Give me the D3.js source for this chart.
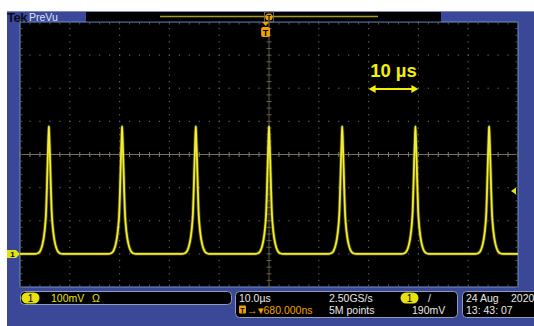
<!DOCTYPE html>
<html>
<head>
<meta charset="utf-8">
<script src="https://cdn.jsdelivr.net/npm/d3@7"></script>
<style>
  html,body{margin:0;padding:0;background:#fff;}
  svg{display:block;}
  text{font-family:"Liberation Sans",Arial,sans-serif;}
</style>
</head>
<body>
<svg id="c" width="534" height="326"></svg>
<script>
// ---- data ----
const peakTimesUs = [-44.2, -29.5, -14.7, 0, 14.7, 29.4, 44.2];      // pulse centres (µs from trigger)
const pulseOffsetsUs = [-2.8, -2.2, -1.7, -1.3, -1.0, -0.75, -0.55, -0.4, -0.25, -0.12, 0,
                         0.12, 0.25, 0.4, 0.55, 0.75, 1.0, 1.3, 1.7, 2.2, 2.8];
const pulseValuesMv  = [0, 2, 10, 28, 52, 85, 130, 200, 280, 340, 385,
                        340, 280, 200, 130, 85, 52, 28, 10, 2, 0];
const baselineMv = 0;
const timeDomainUs = [-50, 50];
const voltDomainMv = [-100, 700];   // ground marker 3 div below centre, 100 mV/div
const triggerLevelMv = 190;
const triggerPosUs = -0.68;
const scaleLabel = "10 µs";
const scaleBarUs = [20, 30];
const chLabels = ["1", "100mV", "Ω"];
const horizLabels = ["10.0µs", "680.000ns", "2.50GS/s", "5M points", "190mV"];
const dateLabels = ["24 Aug", "2020", "13: 43: 07"];

// ---- layout ----
const svg = d3.select("#c");
const P = {l:20, r:518, t:22, b:287};
const BLUE = "#3b4898", YEL = "#e6e20e", ORG = "#f0a000";

const x = d3.scaleLinear().domain(timeDomainUs).range([P.l, P.r]);
const y = d3.scaleLinear().domain(voltDomainMv).range([P.b, P.t]);

// frame
svg.append("rect").attr("x",7).attr("y",11).attr("width",527).attr("height",315).attr("fill",BLUE);
svg.append("line").attr("x1",7).attr("x2",534).attr("y1",11.5).attr("y2",11.5).attr("stroke","#7d8cc8");
svg.append("rect").attr("x",P.l).attr("y",P.t).attr("width",P.r-P.l).attr("height",P.b-P.t)
  .attr("fill","#000").attr("stroke","#7192d4").attr("stroke-width",1);

// header
svg.append("text").attr("x",7).attr("y",21.5).attr("font-size",13).attr("font-weight","bold")
  .attr("fill","#0b0b1c").attr("letter-spacing",-0.5).text("Tek");
svg.append("text").attr("x",29).attr("y",20.5).attr("font-size",10.5).attr("fill","#dfe4f7").text("PreVu");
svg.append("rect").attr("x",86).attr("y",12).attr("width",355).attr("height",9.5).attr("fill","#000");
svg.append("line").attr("x1",160).attr("x2",378).attr("y1",16.5).attr("y2",16.5).attr("stroke","#a89c10").attr("stroke-width",1.3);
const tx = x(0);
svg.append("rect").attr("x",tx-4.5).attr("y",12).attr("width",9).attr("height",10).attr("fill","none").attr("stroke","#777").attr("stroke-width",0.8);
svg.append("circle").attr("cx",tx).attr("cy",17).attr("r",3.6).attr("fill",ORG);
svg.append("text").attr("x",tx).attr("y",20).attr("font-size",7).attr("font-weight","bold").attr("text-anchor","middle").attr("fill","#000").text("T");

// grid
const majorX = x.ticks(10), majorY = y.ticks(8);
const minorX = d3.range(timeDomainUs[0], timeDomainUs[1]+0.001, 2);
const minorY = d3.range(voltDomainMv[0], voltDomainMv[1]+0.001, 20);
const g = svg.append("g");
const dots = [];
majorX.slice(1,-1).forEach(t => { if (t!==0) minorY.forEach(v => dots.push([x(t), y(v)])); });
majorY.slice(1,-1).forEach(v => { if (v!==300) minorX.forEach(t => dots.push([x(t), y(v)])); });
g.selectAll("rect.dot").data(dots).join("rect").attr("class","dot")
  .attr("x",d=>d[0]-0.6).attr("y",d=>d[1]-0.6).attr("width",1.2).attr("height",1.2).attr("fill","#626262");
// centre cross
g.append("line").attr("x1",P.l).attr("x2",P.r).attr("y1",y(300)).attr("y2",y(300)).attr("stroke","#777060").attr("stroke-width",1);
g.append("line").attr("x1",x(0)).attr("x2",x(0)).attr("y1",P.t).attr("y2",P.b).attr("stroke","#5d584a").attr("stroke-width",1);
g.selectAll("line.cx").data(minorX).join("line").attr("class","cx")
  .attr("x1",d=>x(d)).attr("x2",d=>x(d)).attr("y1",y(300)-2.5).attr("y2",y(300)+2.5).attr("stroke","#807862");
g.selectAll("line.cy").data(minorY).join("line").attr("class","cy")
  .attr("x1",x(0)-2.5).attr("x2",x(0)+2.5).attr("y1",d=>y(d)).attr("y2",d=>y(d)).attr("stroke","#66604f");
// border ticks
g.selectAll("line.bt").data(minorX).join("line").attr("class","bt")
  .attr("x1",d=>x(d)).attr("x2",d=>x(d)).attr("y1",P.t).attr("y2",P.t+2.5).attr("stroke","#555");
g.selectAll("line.bb").data(minorX).join("line").attr("class","bb")
  .attr("x1",d=>x(d)).attr("x2",d=>x(d)).attr("y1",P.b-2.5).attr("y2",P.b).attr("stroke","#555");
g.selectAll("line.bl").data(minorY).join("line").attr("class","bl")
  .attr("x1",P.l).attr("x2",P.l+2.5).attr("y1",d=>y(d)).attr("y2",d=>y(d)).attr("stroke","#555");
g.selectAll("line.br").data(minorY).join("line").attr("class","br")
  .attr("x1",P.r-2.5).attr("x2",P.r).attr("y1",d=>y(d)).attr("y2",d=>y(d)).attr("stroke","#555");

// trace points
const pts = [[timeDomainUs[0], baselineMv]];
peakTimesUs.forEach(pk => pulseOffsetsUs.forEach((o,i) => pts.push([pk+o, baselineMv+pulseValuesMv[i]])));
pts.push([timeDomainUs[1], baselineMv]);
const clipped = pts.filter(p => p[0] >= timeDomainUs[0] && p[0] <= timeDomainUs[1]);
const line = d3.line().x(d=>x(d[0])).y(d=>y(d[1])).curve(d3.curveMonotoneX);
svg.append("defs").append("clipPath").attr("id","pc").append("rect")
  .attr("x",P.l).attr("y",P.t).attr("width",P.r-P.l).attr("height",P.b-P.t);
const tr = svg.append("g").attr("clip-path","url(#pc)");
tr.append("path").datum(clipped).attr("d",line).attr("fill","none").attr("stroke","#8a8400").attr("stroke-width",3.4).attr("stroke-opacity",0.6).attr("stroke-linejoin","round");
tr.append("path").datum(clipped).attr("d",line).attr("fill","none").attr("stroke",YEL).attr("stroke-width",1.8).attr("stroke-linejoin","round");
tr.append("path").datum(clipped).attr("d",line).attr("fill","none").attr("stroke","#f8f46a").attr("stroke-width",0.7).attr("stroke-linejoin","round");

// trigger position marker
const tp = x(triggerPosUs);
svg.append("path").attr("d",`M${tp-3.5},${P.t}L${tp+3.5},${P.t}L${tp},${P.t+4}Z`).attr("fill",ORG);
svg.append("rect").attr("x",tp-4.5).attr("y",27).attr("width",9).attr("height",10).attr("rx",2).attr("fill",ORG);
svg.append("text").attr("x",tp).attr("y",35.5).attr("font-size",9).attr("font-weight","bold").attr("text-anchor","middle").attr("fill","#000").text("T");

// ground marker (left) and trigger level (right)
const gy = y(baselineMv);
svg.append("path").attr("d",`M7,${gy-4}L16,${gy-4}L20,${gy}L16,${gy+4}L7,${gy+4}Z`).attr("fill",YEL);
svg.append("text").attr("x",12.5).attr("y",gy+3).attr("font-size",8).attr("font-weight","bold").attr("text-anchor","middle").attr("fill","#000").text("1");
const ty = y(triggerLevelMv);
svg.append("path").attr("d",`M511,${ty}L516,${ty-3.5}L516,${ty+3.5}Z`).attr("fill",YEL);

// annotation
svg.append("text").attr("x",(x(scaleBarUs[0])+x(scaleBarUs[1]))/2).attr("y",76.5)
  .attr("font-family","DejaVu Sans").attr("font-size",18.5).attr("font-weight","bold")
  .attr("text-anchor","middle").attr("fill","#f4f000").text(scaleLabel);
const ay = 89, ax0 = x(scaleBarUs[0]), ax1 = x(scaleBarUs[1]);
svg.append("line").attr("x1",ax0+4).attr("x2",ax1-4).attr("y1",ay).attr("y2",ay).attr("stroke","#f4f000").attr("stroke-width",2);
svg.append("path").attr("d",`M${ax0},${ay}L${ax0+7},${ay-4}L${ax0+7},${ay+4}Z`).attr("fill","#f4f000");
svg.append("path").attr("d",`M${ax1},${ay}L${ax1-7},${ay-4}L${ax1-7},${ay+4}Z`).attr("fill","#f4f000");

// bottom readouts
function box(x0,y0,w,h){
  svg.append("rect").attr("x",x0).attr("y",y0).attr("width",w).attr("height",h).attr("rx",4)
    .attr("fill","#000").attr("stroke","#8f9bbd").attr("stroke-width",1);
}
function oval(cx,cy){
  svg.append("rect").attr("x",cx-9).attr("y",cy-5.5).attr("width",18).attr("height",11).attr("rx",5.5).attr("fill",YEL);
  svg.append("text").attr("x",cx).attr("y",cy+3.5).attr("font-size",10).attr("text-anchor","middle").attr("fill","#000").text("1");
}
const fs = 10.5;
box(20.5,291.5,211,13);
oval(30.5,298);
svg.append("text").attr("x",51).attr("y",302).attr("font-size",fs).attr("fill",YEL).text(chLabels[1]);
svg.append("text").attr("x",92).attr("y",302).attr("font-size",fs).attr("fill",YEL).text(chLabels[2]);

box(235.5,291.5,222,26);
svg.append("text").attr("x",239).attr("y",302).attr("font-size",fs).attr("fill","#e8e8e8").text(horizLabels[0]);
svg.append("rect").attr("x",239).attr("y",305.5).attr("width",7).attr("height",8).attr("rx",1).attr("fill",ORG);
svg.append("text").attr("x",242.5).attr("y",312.5).attr("font-size",7).attr("font-weight","bold").attr("text-anchor","middle").attr("fill","#000").text("T");
svg.append("text").attr("x",247).attr("y",313.5).attr("font-size",fs).attr("fill",ORG).text("→▾" + horizLabels[1]);
svg.append("text").attr("x",329).attr("y",302).attr("font-size",fs).attr("fill","#e8e8e8").text(horizLabels[2]);
svg.append("text").attr("x",329).attr("y",313.5).attr("font-size",fs).attr("fill","#e8e8e8").text(horizLabels[3]);
oval(409.5,298);
svg.append("text").attr("x",428).attr("y",302).attr("font-size",fs).attr("fill","#e8e8e8").text("/");
svg.append("text").attr("x",412).attr("y",313.5).attr("font-size",fs).attr("fill","#e8e8e8").text(horizLabels[4]);

box(462.5,291.5,80,26);
svg.append("text").attr("x",466).attr("y",302).attr("font-size",fs).attr("fill","#e8e8e8").text(dateLabels[0]);
svg.append("text").attr("x",511).attr("y",302).attr("font-size",fs).attr("fill","#e8e8e8").text(dateLabels[1]);
svg.append("text").attr("x",466).attr("y",313.5).attr("font-size",fs).attr("fill","#e8e8e8").text(dateLabels[2]);
</script>
</body>
</html>
